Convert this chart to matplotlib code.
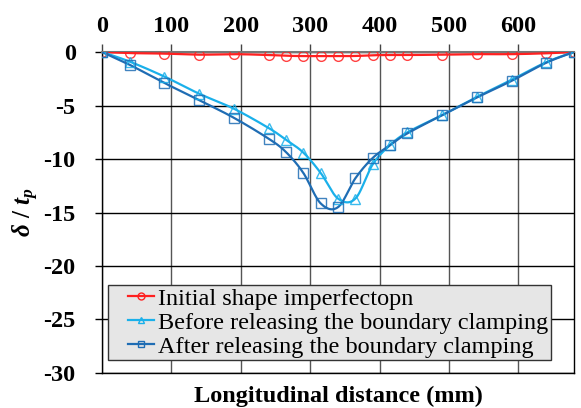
import numpy as np
import matplotlib
matplotlib.use("Agg")
import matplotlib.pyplot as plt
from matplotlib.lines import Line2D
from matplotlib.legend_handler import HandlerLine2D

# longitudinal positions (mm) and normalised deflection delta/tp
distance = [0, 40, 90, 140, 190, 240, 265, 290, 315, 340, 365, 390, 415, 440, 490, 540, 590, 640, 680]
initial = [0, -0.1, -0.15, -0.25, -0.2, -0.28, -0.35, -0.38, -0.38, -0.38, -0.37, -0.3, -0.28,
           -0.28, -0.25, -0.2, -0.2, -0.12, 0]
before = [0, -0.9, -2.3, -3.9, -5.3, -7.1, -8.2, -9.4, -11.3, -13.7, -13.7, -10.5, -8.7,
          -7.5, -5.9, -4.2, -2.6, -0.95, 0]
after = [0, -1.2, -2.9, -4.5, -6.15, -8.1, -9.35, -11.3, -14.15, -14.5, -11.8, -9.9, -8.7,
         -7.6, -5.9, -4.25, -2.7, -1.0, 0]

labels = ["Initial shape imperfectopn",
          "Before releasing the boundary clamping",
          "After releasing the boundary clamping"]
colors = ["#FF2020", "#1AB0EA", "#1F6DB4"]
markers = ["o", "^", "s"]


def smooth(x, y, n=24):  # excel-like smoothed line (catmull-rom bezier)
    pts = np.column_stack([x, y]).astype(float)
    p = np.vstack([pts[0], pts, pts[-1]])
    t = np.linspace(0, 1, n)[:, None]
    segs = []
    for i in range(1, len(p) - 2):
        p0, p1, p2, p3 = p[i - 1], p[i], p[i + 1], p[i + 2]
        c1 = p1 + (p2 - p0) / 6
        c2 = p2 - (p3 - p1) / 6
        segs.append((1 - t) ** 3 * p1 + 3 * (1 - t) ** 2 * t * c1 + 3 * (1 - t) * t ** 2 * c2 + t ** 3 * p2)
    return np.vstack(segs).T


plt.rcParams["font.family"] = ["Liberation Serif", "DejaVu Serif"]
plt.rcParams["axes.unicode_minus"] = False
plt.rcParams["mathtext.fontset"] = "custom"
plt.rcParams["mathtext.rm"] = "Liberation Serif:bold"
plt.rcParams["mathtext.it"] = "Liberation Serif:italic:bold"

fig = plt.figure(figsize=(5.81, 4.08), dpi=100)
ax = fig.add_axes([0.1756, 0.0858, 0.8124, 0.7867])

handles = []
for ys, c, m, lab in zip([initial, before, after], colors, markers, labels):
    sx, sy = smooth(distance, ys)
    ax.plot(sx, sy, color=c, lw=1.6, zorder=3)
    ax.plot(distance, ys, linestyle="none", marker=m, markersize=7, markerfacecolor="none",
            markeredgecolor=c, markeredgewidth=1.0, alpha=0.85, zorder=4)
    handles.append(Line2D([], [], color=c, lw=1.6, marker=m, markersize=5,
                          markerfacecolor="none", markeredgecolor=c, label=lab))

ax.set_xlim(0, 680)
ax.set_ylim(-30, 0)
ax.set_xticks([0, 100, 200, 300, 400, 500, 600])
ax.set_yticks([0, -5, -10, -15, -20, -25, -30])
ax.xaxis.tick_top()
ax.xaxis.set_label_position("bottom")
ax.tick_params(axis="x", direction="out", length=6, width=1, pad=5, labelsize=17.5, colors="#444444",
               labelcolor="black")
ax.tick_params(axis="y", direction="out", length=5, width=1, pad=14, labelsize=17.5)
for lab in ax.get_xticklabels() + ax.get_yticklabels():
    lab.set_fontweight("bold")

ax.grid(axis="x", color="#555555", lw=1)
ax.grid(axis="y", color="black", lw=1)
ax.set_axisbelow(True)
for side in ["left", "bottom", "right"]:
    ax.spines[side].set_color("black")
    ax.spines[side].set_linewidth(1)
ax.spines["top"].set_color("#777777")
ax.spines["top"].set_linewidth(1.5)

ax.set_xlabel("Longitudinal distance (mm)", fontsize=17.5, fontweight="bold", labelpad=9)
ax.set_ylabel(r"$\delta\ /\ t_p$", fontsize=18, labelpad=2)

leg = ax.legend(handles=handles, loc="lower left", bbox_to_anchor=(0.013, 0.04), fontsize=17.5,
                frameon=True, fancybox=False, framealpha=1, facecolor="#E6E6E6", edgecolor="#333333",
                handlelength=1.8, handletextpad=0.15, labelspacing=0.08, borderpad=0.1,
                borderaxespad=0, handler_map={Line2D: HandlerLine2D(xpad=0.7)})
leg.get_frame().set_linewidth(1)

fig.savefig("out.png", dpi=100)
